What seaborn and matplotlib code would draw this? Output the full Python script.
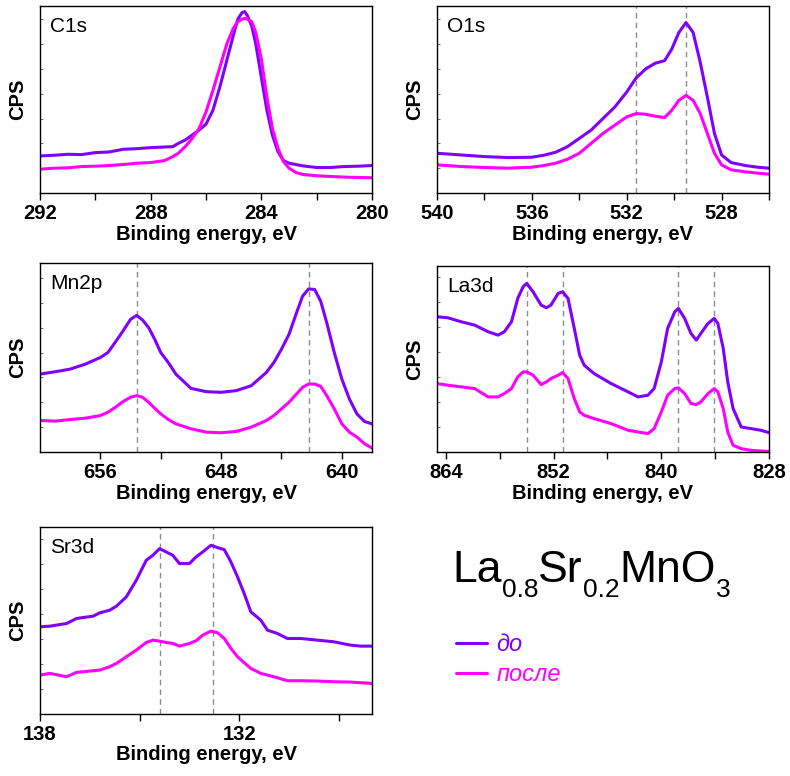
import numpy as np
import pandas as pd
import matplotlib
matplotlib.use("Agg")
import matplotlib.pyplot as plt
from matplotlib.text import Annotation
from matplotlib.ticker import MultipleLocator
import seaborn as sns

# ---------------- data (intensity in arbitrary CPS units) ----------------
states = ["до", "после"]

c1s_E = [292, 291.5, 291, 290.5, 290, 289.5, 289, 288.5, 288, 287.5, 287.2, 287,
         286.75, 286.5, 286.25, 286, 285.75, 285.5, 285.25, 285, 284.85, 284.7,
         284.6, 284.5, 284.35, 284.2, 284, 283.8, 283.6, 283.4, 283.2, 283,
         282.75, 282.5, 282, 281.5, 281, 280.5, 280]
c1s_before = [112, 114, 117, 116, 122, 124, 132, 134, 137, 139, 140, 150, 160, 175,
              190, 208, 250, 320, 400, 480, 525, 545, 548, 535, 505, 450, 350, 250,
              175, 125, 98, 90, 86, 82, 77, 77, 80, 81, 83]
c1s_after = [72, 75, 76, 80, 81, 83, 86, 90, 92, 98, 110, 120, 140, 165, 195, 245,
             310, 380, 450, 500, 518, 525, 528, 525, 518, 485, 405, 290, 195, 135,
             95, 75, 62, 56, 52, 50, 48, 47, 46]

o1s_E = [540, 539, 538, 537, 536, 535.5, 535, 534.5, 534, 533.5, 533, 532.5, 532,
         531.6, 531.2, 530.8, 530.4, 530.1, 529.8, 529.5, 529.2, 528.9, 528.6,
         528.3, 528, 527.6, 527, 526.5, 526]
o1s_before = [120, 115, 110, 107, 108, 114, 123, 140, 165, 190, 225, 260, 305, 348,
              375, 392, 400, 435, 485, 515, 485, 395, 290, 180, 115, 92, 83, 78, 75]
o1s_after = [85, 80, 77, 75, 78, 83, 90, 102, 120, 150, 180, 205, 230, 240, 238, 232,
             228, 250, 280, 295, 280, 240, 180, 120, 85, 70, 64, 60, 57]
o1s_lines = [531.6, 529.5]

mn_E = [660, 659, 658, 657, 656, 655.5, 655, 654.5, 654, 653.6, 653.2, 652.8, 652.4,
        652, 651.5, 651, 650, 649, 648, 647, 646, 645, 644.5, 644, 643.5, 643,
        642.6, 642.2, 641.8, 641.4, 641, 640.5, 640, 639.5, 639, 638.5, 638]
mn_before = [235, 242, 250, 265, 285, 300, 332, 365, 400, 412, 398, 375, 340, 300,
             270, 235, 192, 182, 180, 185, 200, 240, 270, 310, 355, 420, 470, 492,
             490, 455, 390, 300, 220, 160, 115, 92, 85]
mn_after = [95, 93, 98, 102, 110, 120, 135, 152, 165, 170, 165, 150, 132, 115, 98, 85,
            70, 60, 58, 62, 75, 95, 110, 130, 150, 175, 195, 205, 205, 198, 170, 130,
            85, 60, 45, 25, 12]
mn_lines = [653.6, 642.2]

la_E = [865, 863.8, 862.3, 860.8, 859.3, 858.2, 857.5, 856.7, 856.0, 855.4, 855.0,
        854.3, 853.4, 852.8, 852.3, 851.5, 851.0, 850.4, 849.7, 849.1, 848.6, 847.5,
        845.6, 843.7, 842.6, 841.5, 840.8, 840.0, 839.3, 838.5, 838.1, 837.4, 836.7,
        836.1, 835.6, 834.8, 834.1, 833.7, 833.1, 832.6, 832.0, 831.1, 830.0, 828.9,
        828.0]
la_before = [405, 402, 390, 380, 360, 350, 360, 390, 460, 495, 505, 480, 440, 432,
             440, 475, 480, 460, 370, 290, 260, 235, 205, 180, 165, 170, 190, 270,
             370, 420, 430, 400, 355, 335, 355, 385, 400, 385, 310, 210, 130, 75, 70,
             65, 58]
la_after = [205, 200, 195, 190, 165, 165, 175, 190, 225, 240, 240, 230, 202, 210, 220,
            230, 238, 220, 160, 120, 110, 100, 85, 65, 60, 55, 70, 120, 170, 190, 192,
            175, 145, 142, 150, 175, 190, 180, 130, 60, 20, 10, 5, 3, 2]
la_lines = [855.0, 851.0, 838.1, 834.1]

sr_E = [138.0, 137.7, 137.2, 136.9, 136.7, 136.4, 136.2, 135.9, 135.7, 135.4, 135.1,
        134.8, 134.6, 134.4, 134.2, 134.0, 133.8, 133.5, 133.3, 133.1, 132.85, 132.65,
        132.45, 132.25, 132.05, 131.85, 131.65, 131.35, 131.15, 130.85, 130.55,
        130.15, 129.65, 129.15, 128.65, 128.35, 128.0]
sr_before = [262, 264, 272, 287, 290, 294, 304, 312, 324, 352, 402, 462, 477, 497, 487,
             477, 452, 452, 472, 487, 507, 500, 494, 457, 412, 362, 307, 282, 252, 242,
             227, 227, 222, 217, 207, 204, 204]
sr_after = [117, 122, 112, 125, 127, 130, 132, 142, 152, 172, 192, 215, 222, 219, 215,
            212, 204, 212, 220, 237, 249, 244, 227, 197, 172, 154, 137, 122, 117, 109,
            100, 100, 99, 97, 96, 94, 92]
sr_lines = [134.4, 132.8]

panel_names = ["C1s", "O1s", "Mn2p", "La3d", "Sr3d"]

# ---------------- style ----------------
sns.set_theme(style="ticks")
plt.rcParams["font.family"] = ["Liberation Sans", "DejaVu Sans"]
plt.rcParams.update({
    "axes.linewidth": 1.0,
    "axes.edgecolor": "black",
    "text.color": "black",
    "axes.labelcolor": "black",
    "xtick.color": "black",
    "ytick.color": "black",
    "xtick.labelcolor": "black",
})

C_BEFORE = "#7F00FF"
C_AFTER = "#FF00FF"
palette = {"до": C_BEFORE, "после": C_AFTER}

W, H = 790, 776
fig = plt.figure(figsize=(W / 100, H / 100), dpi=100)


def box(l, t, r, b):
    return [l / W, 1 - b / H, (r - l) / W, (b - t) / H]


panels = [
    dict(E=c1s_E, b=c1s_before, a=c1s_after, xlim=(292, 280), ylim=(0, 565),
         major=[292, 288, 284, 280], minor=[290, 286, 282], lines=[],
         pos=box(40, 6, 372, 193)),
    dict(E=o1s_E, b=o1s_before, a=o1s_after, xlim=(540, 526), ylim=(0, 565),
         major=[540, 536, 532, 528], minor=[538, 534, 530, 526], lines=o1s_lines,
         pos=box(437, 6, 769, 193)),
    dict(E=mn_E, b=mn_before, a=mn_after, xlim=(660, 638), ylim=(0, 570),
         major=[656, 648, 640], minor=[652, 644], lines=mn_lines,
         pos=box(40, 263, 372, 452)),
    dict(E=la_E, b=la_before, a=la_after, xlim=(865, 828), ylim=(0, 557),
         major=[864, 852, 840, 828], minor=[858, 846, 834], lines=la_lines,
         pos=box(437, 266, 769, 452)),
    dict(E=sr_E, b=sr_before, a=sr_after, xlim=(138, 128), ylim=(0, 562),
         major=[138, 132], minor=[135, 129], lines=sr_lines,
         pos=box(40, 527, 372, 714)),
]

first_ax = None
for name, p in zip(panel_names, panels):
    ax = fig.add_axes(p["pos"])
    n = len(p["E"])
    df = pd.DataFrame({
        "E": list(p["E"]) * 2,
        "I": list(p["b"]) + list(p["a"]),
        "state": [states[0]] * n + [states[1]] * n,
    })
    sns.lineplot(data=df, x="E", y="I", hue="state", palette=palette,
                 hue_order=states, estimator=None, sort=False, lw=2.2,
                 ax=ax, legend=False)
    if first_ax is None:
        first_ax = ax
        legend_handles = list(ax.get_lines()[:2])
    for xv in p["lines"]:
        ax.axvline(xv, color="#8c8c8c", ls=(0, (4, 3)), lw=1.0, zorder=0)
    ax.set_xlim(*p["xlim"])
    ax.set_ylim(*p["ylim"])
    ax.set_xticks(p["major"])
    ax.set_xticks(p["minor"], minor=True)
    ax.set_xticklabels([str(v) for v in p["major"]], fontsize=14.5,
                       fontweight="bold", color="black")
    ax.tick_params(axis="x", which="both", direction="out", length=5, width=1,
                   color="black", pad=3)
    ax.yaxis.set_major_locator(MultipleLocator(75))
    ax.tick_params(axis="y", which="both", direction="in", length=2, width=0.6,
                   color="#555555", labelleft=False)
    for s in ax.spines.values():
        s.set_visible(True)
        s.set_color("black")
        s.set_linewidth(1.0)
    ax.set_xlabel("Binding energy, eV", fontsize=14.5, fontweight="bold",
                  labelpad=1, color="black")
    ax.set_ylabel("CPS", fontsize=14.5, fontweight="bold", labelpad=9,
                  color="black")
    ax.text(0.03, 0.94, name, transform=ax.transAxes, fontsize=15,
            va="top", ha="left", color="black")

# ---------------- formula ----------------
main_fs, sub_fs = 32, 19
drop = 8
t = fig.text(452 / W, 1 - 591 / H, "La", fontsize=main_fs, va="bottom",
             ha="left", color="black")
pieces = [("0.8", sub_fs, -drop), ("Sr", main_fs, drop), ("0.2", sub_fs, -drop),
          ("MnO", main_fs, drop), ("3", sub_fs, -drop)]
prev = t
for txt, fs, dy in pieces:
    a = Annotation(txt, xy=(1, 0), xycoords=prev, xytext=(0, dy),
                   textcoords="offset points", fontsize=fs, va="bottom",
                   ha="left", color="black")
    fig.add_artist(a)
    prev = a

# ---------------- legend ----------------
fig.legend(legend_handles, states, loc="upper left",
           bbox_to_anchor=(456 / W, 1 - 633 / H), frameon=False,
           prop={"style": "italic", "size": 17},
           labelcolor=[C_BEFORE, C_AFTER], handlelength=1.3,
           handletextpad=0.4, borderpad=0, borderaxespad=0, labelspacing=0.3)

fig.savefig("out.png", dpi=100)
